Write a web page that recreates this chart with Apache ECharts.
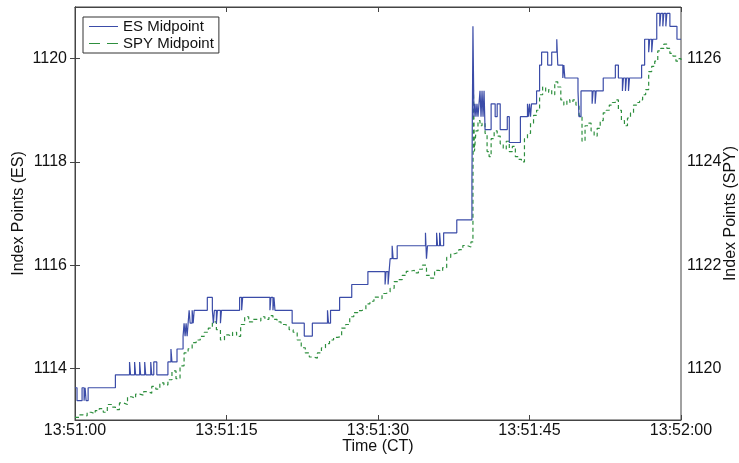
<!DOCTYPE html>
<html><head><meta charset="utf-8">
<script src="https://cdn.jsdelivr.net/npm/echarts@6/dist/echarts.min.js"></script>
<style>html,body{margin:0;padding:0;background:#fff}#c{width:739px;height:463px}</style>
</head><body><div id="c"></div>
<script>
// ---- data (seconds after 13:51:00) ----
const xTickLabels = ['13:51:00', '13:51:15', '13:51:30', '13:51:45', '13:52:00'];
const seriesNames = ['ES Midpoint', 'SPY Midpoint'];

const esTimes = [
  0, 0.2, 0.7, 0.9, 1.0, 1.1, 1.3, 4.0, 5.4, 5.5,
  5.9, 6.0, 6.4, 6.5, 6.9, 7.0, 7.5, 7.6, 7.8, 8.1,
  9.2, 9.5, 9.6, 10.1, 10.7, 10.8, 10.9, 11.0, 11.1, 11.2,
  11.3, 11.4, 11.6, 11.7, 11.8, 13.1, 13.6, 13.7, 13.8, 14.0,
  14.1, 14.4, 14.5, 16.3, 16.5, 16.6, 19.3, 19.4, 19.6, 19.7,
  19.8, 21.5, 22.7, 23.5, 25.0, 25.1, 25.3, 26.2, 27.4, 29.0,
  30.7, 30.8, 31.0, 31.1, 31.2, 31.4, 31.5, 31.9, 34.7, 34.8,
  34.9, 35.8, 35.9, 36.1, 36.2, 36.5, 37.8, 39.3, 39.4, 39.5,
  39.6, 39.7, 39.8, 39.9, 40.0, 40.1, 40.2, 40.3, 40.4, 40.5,
  40.6, 41.2, 41.6, 41.8, 42.1, 42.8, 43.0, 44.1, 44.8, 44.9,
  45.0, 45.1, 45.2, 45.7, 46.0, 46.2, 46.8, 47.2, 47.7, 47.8,
  48.3, 48.4, 48.5, 49.8, 49.9, 50.1, 51.2, 51.3, 51.5, 51.6,
  52.3, 53.5, 53.8, 54.2, 54.3, 54.5, 54.6, 54.8, 54.9, 56.1,
  56.4, 56.8, 56.9, 57.1, 57.2, 57.6, 57.9, 58.0, 58.2, 58.3,
  58.5, 58.6, 58.9, 59.6, 60
];
const esValues = [
  1113.625, 1113.375, 1113.625, 1113.375, 1113.625, 1113.375, 1113.625, 1113.875, 1114.125, 1113.875,
  1114.125, 1113.875, 1114.125, 1113.875, 1114.125, 1113.875, 1114.125, 1113.875, 1114.125, 1113.875,
  1114.125, 1114.375, 1114.125, 1114.375, 1114.625, 1114.875, 1114.625, 1114.875, 1114.625, 1114.875,
  1115.125, 1114.875, 1115.125, 1114.875, 1115.125, 1115.375, 1115.125, 1114.875, 1115.125, 1114.875,
  1115.125, 1114.875, 1115.125, 1115.375, 1115.125, 1115.375, 1115.125, 1115.375, 1115.125, 1115.375,
  1115.125, 1114.875, 1114.625, 1114.875, 1115.125, 1114.875, 1115.125, 1115.375, 1115.625, 1115.875,
  1115.625, 1115.875, 1115.625, 1115.875, 1116.125, 1116.375, 1116.125, 1116.375, 1116.625, 1116.125,
  1116.375, 1116.625, 1116.375, 1116.625, 1116.375, 1116.625, 1116.875, 1117.625, 1120.625, 1118.875,
  1119.125, 1118.875, 1119.125, 1118.875, 1119.125, 1119.375, 1118.875, 1119.375, 1118.875, 1119.375,
  1118.625, 1119.125, 1118.875, 1119.125, 1118.625, 1118.875, 1118.375, 1118.875, 1119.125, 1118.875,
  1119.125, 1118.875, 1119.125, 1119.375, 1119.875, 1120.125, 1119.875, 1120.125, 1120.375, 1119.875,
  1119.625, 1119.875, 1119.625, 1119.375, 1118.875, 1119.375, 1119.125, 1119.375, 1119.125, 1119.375,
  1119.625, 1119.875, 1119.625, 1119.375, 1119.625, 1119.375, 1119.625, 1119.375, 1119.625, 1119.875,
  1120.375, 1120.125, 1120.375, 1120.125, 1120.375, 1120.875, 1120.625, 1120.875, 1120.625, 1120.875,
  1120.625, 1120.875, 1120.625, 1120.375, 1120.375
];

const spyTimes = [
  0.0, 0.4, 0.8, 1.2, 1.6, 2.0, 2.4, 2.8, 3.2, 3.6,
  4.0, 4.4, 4.8, 5.2, 5.6, 6.0, 6.4, 6.8, 7.2, 7.6,
  8.0, 8.4, 8.8, 9.2, 9.6, 10.0, 10.4, 10.8, 11.2, 11.6,
  12.0, 12.4, 12.8, 13.2, 13.6, 14.0, 14.4, 14.8, 15.2, 15.6,
  16.0, 16.4, 16.8, 17.2, 17.6, 18.0, 18.4, 18.8, 19.2, 19.6,
  20.0, 20.4, 20.8, 21.2, 21.6, 22.0, 22.4, 22.8, 23.2, 23.6,
  24.0, 24.4, 24.8, 25.2, 25.6, 26.0, 26.4, 26.8, 27.2, 27.6,
  28.0, 28.4, 28.8, 29.2, 29.6, 30.0, 30.4, 30.8, 31.2, 31.6,
  32.0, 32.4, 32.8, 33.2, 33.6, 34.0, 34.4, 34.8, 35.2, 35.6,
  36.0, 36.4, 36.8, 37.2, 37.6, 38.0, 38.4, 38.8, 39.2, 39.4,
  39.45, 39.55, 39.7, 39.9, 40.1, 40.3, 40.6, 40.8, 41.0, 41.2,
  41.5, 41.8, 42.1, 42.4, 42.7, 43.0, 43.3, 43.6, 43.9, 44.2,
  44.5, 44.8, 45.1, 45.4, 45.7, 46.0, 46.3, 46.6, 46.9, 47.2,
  47.5, 47.8, 48.1, 48.4, 48.7, 49.0, 49.3, 49.6, 49.9, 50.2,
  50.5, 50.8, 51.1, 51.4, 51.7, 52.0, 52.3, 52.6, 52.9, 53.2,
  53.5, 53.8, 54.1, 54.4, 54.7, 55.0, 55.3, 55.6, 55.9, 56.2,
  56.5, 56.8, 57.1, 57.4, 57.7, 58.0, 58.3, 58.6, 58.9, 59.2,
  59.5, 59.8, 60.0
];
const spyValues = [
  1119.05, 1119.10, 1119.08, 1119.15, 1119.12, 1119.18, 1119.22, 1119.15, 1119.30, 1119.25,
  1119.20, 1119.33, 1119.30, 1119.45, 1119.42, 1119.50, 1119.48, 1119.55, 1119.52, 1119.65,
  1119.60, 1119.72, 1119.68, 1119.78, 1119.95, 1119.80, 1120.05, 1120.30, 1120.38, 1120.50,
  1120.55, 1120.62, 1120.70, 1120.78, 1120.90, 1120.75, 1120.55, 1120.65, 1120.62, 1120.70,
  1120.62, 1120.85, 1121.00, 1120.90, 1120.95, 1120.92, 1121.00, 1120.95, 1121.02, 1120.95,
  1120.90, 1120.85, 1120.82, 1120.75, 1120.70, 1120.55, 1120.40, 1120.30, 1120.22, 1120.20,
  1120.30, 1120.40, 1120.48, 1120.55, 1120.60, 1120.62, 1120.78, 1120.85, 1121.00, 1121.08,
  1121.12, 1121.15, 1121.25, 1121.30, 1121.38, 1121.35, 1121.45, 1121.48, 1121.55, 1121.68,
  1121.72, 1121.80, 1121.88, 1121.90, 1121.85, 1121.92, 1122.00, 1121.80, 1121.75, 1121.90,
  1121.88, 1121.95, 1122.15, 1122.22, 1122.25, 1122.30, 1122.38, 1122.35, 1122.45, 1123.60,
  1125.40, 1124.20, 1124.60, 1124.80, 1124.70, 1124.75, 1124.55, 1124.20, 1124.10, 1124.45,
  1124.60, 1124.50, 1124.35, 1124.25, 1124.40, 1124.20, 1124.30, 1124.10, 1124.05, 1124.00,
  1124.45, 1124.55, 1124.75, 1124.90, 1125.00, 1125.30, 1125.45, 1125.35, 1125.40, 1125.30,
  1125.55, 1125.45, 1125.20, 1125.10, 1125.20, 1125.15, 1125.20, 1125.10, 1124.90, 1124.40,
  1124.70, 1124.75, 1124.60, 1124.50, 1124.65, 1124.80, 1124.95, 1125.00, 1125.10, 1125.15,
  1125.20, 1125.00, 1124.80, 1124.70, 1124.85, 1124.95, 1125.10, 1125.15, 1125.20, 1125.30,
  1125.40, 1125.75, 1125.85, 1125.95, 1126.15, 1126.20, 1126.28, 1126.20, 1126.10, 1126.05,
  1125.95, 1126.00, 1125.95
];

const FONT = 'Liberation Sans, Arial, Helvetica, sans-serif';
const ES_COLOR = '#3b4ca8';
const SPY_COLOR = '#2e8f3e';
const esData = esTimes.map((t, i) => [t, esValues[i]]);
const spyData = spyTimes.map((t, i) => [t, spyValues[i]]);

const chart = echarts.init(document.getElementById('c'), null, {renderer: 'canvas'});
const axisCommon = {
  axisLine: {show: true, lineStyle: {color: '#444', width: 1}},
  axisTick: {show: true, inside: true, length: 5, lineStyle: {color: '#444'}},
  splitLine: {show: false},
  nameMoveOverlap: false,
  nameTextStyle: {fontSize: 16, fontFamily: FONT, color: '#111'}
};
const plainNum = v => String(v);
chart.setOption({
  animation: false,
  backgroundColor: '#fff',
  textStyle: {fontFamily: FONT},
  grid: {left: 75, right: 58, top: 7, bottom: 43, show: true, borderColor: '#444', borderWidth: 1,
         containLabel: false, outerBoundsMode: 'none'},
  legend: {
    data: [
      {name: seriesNames[0], icon: 'path://M0,0H29V1H0Z', itemStyle: {color: ES_COLOR}},
      {name: seriesNames[1], icon: 'path://M0,0H11V1H0Z M18,0H29V1H18Z', itemStyle: {color: SPY_COLOR}}
    ],
    orient: 'vertical', left: 83, top: 17,
    itemWidth: 29, itemHeight: 1.3, itemGap: 2,
    padding: [2, 5, 2, 6],
    borderColor: '#333', borderWidth: 1, backgroundColor: '#fff',
    textStyle: {fontSize: 15, fontFamily: FONT, color: '#111', lineHeight: 15}
  },
  xAxis: [
    Object.assign({}, axisCommon, {
      type: 'value', min: 0, max: 60, interval: 15, position: 'bottom',
      name: 'Time (CT)', nameLocation: 'middle', nameGap: 19,
      axisLabel: {fontSize: 16, fontFamily: FONT, color: '#111', margin: 3,
        formatter: v => xTickLabels[Math.round(v / 15)]}
    }),
    Object.assign({}, axisCommon, {
      type: 'value', min: 0, max: 60, interval: 15, position: 'top',
      axisLabel: {show: false}
    })
  ],
  yAxis: [
    Object.assign({}, axisCommon, {
      type: 'value', min: 1113, max: 1121, splitNumber: 4, position: 'left',
      name: 'Index Points (ES)', nameLocation: 'middle', nameGap: 48, nameRotate: 90,
      axisLabel: {fontSize: 16, fontFamily: FONT, color: '#111', margin: 8,
        showMinLabel: false, showMaxLabel: false, formatter: plainNum}
    }),
    Object.assign({}, axisCommon, {
      type: 'value', min: 1119, max: 1127, splitNumber: 4, position: 'right',
      name: 'Index Points (SPY)', nameLocation: 'middle', nameGap: 42, nameRotate: 90,
      axisLabel: {fontSize: 16, fontFamily: FONT, color: '#111', margin: 6,
        showMinLabel: false, showMaxLabel: false, formatter: plainNum}
    })
  ],
  series: [
    {name: seriesNames[0], type: 'line', xAxisIndex: 0, yAxisIndex: 0, step: 'end',
     symbol: 'none', showSymbol: false, data: esData,
     lineStyle: {color: ES_COLOR, width: 1.2}, itemStyle: {color: ES_COLOR}, z: 3},
    {name: seriesNames[1], type: 'line', xAxisIndex: 0, yAxisIndex: 1, step: 'end',
     symbol: 'none', showSymbol: false, data: spyData,
     lineStyle: {color: SPY_COLOR, width: 1.2, type: [4, 3]}, itemStyle: {color: SPY_COLOR}, z: 2}
  ]
});
</script>
</body></html>
